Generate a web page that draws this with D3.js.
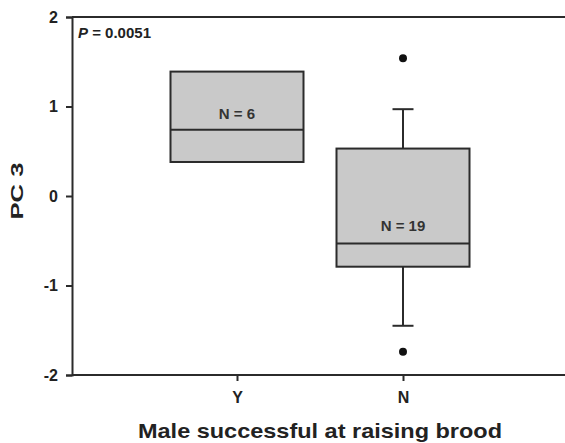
<!DOCTYPE html>
<html><head><meta charset="utf-8">
<script src="https://cdn.jsdelivr.net/npm/d3@7"></script>
<style>body{margin:0;background:#fff;} text{font-family:"Liberation Sans",Arial,sans-serif;}</style>
</head><body>
<svg id="c" width="565" height="443"></svg>
<script>
const categories = ["Y", "N"];
const q1 = [0.38, -0.79];
const medians = [0.74, -0.53];
const q3 = [1.39, 0.53];
const whiskerLow = [null, -1.45];
const whiskerHigh = [null, 0.97];
const outliers = [[], [1.54, -1.74]];
const counts = ["N = 6", "N = 19"];
const countPos = [0.9, -0.35];
const yTicks = [-2, -1, 0, 1, 2];

const svg = d3.select("#c");
const m = {l:72, t:17, r:565, b:375};
const x = d3.scalePoint().domain(categories).range([237, 403]);
const y = d3.scaleLinear().domain([-2, 2]).range([m.b, m.t]);
const bw = 133, cap = 21;
const ink = "#2b2b2b";

svg.append("line").attr("x1", m.l).attr("x2", m.r).attr("y1", m.t).attr("y2", m.t).attr("stroke", ink).attr("stroke-width", 2);

const gy = svg.append("g").attr("transform", `translate(${m.l},0)`)
  .call(d3.axisLeft(y).tickValues(yTicks).tickFormat(d => String(d)).tickSize(6).tickPadding(8));
const gx = svg.append("g").attr("transform", `translate(0,${m.b})`)
  .call(d3.axisBottom(x).tickSize(6).tickPadding(11));
gx.select(".domain").attr("d", `M${m.l},0H${m.r}`);
[gx, gy].forEach(g => {
  g.selectAll("path,line").attr("stroke", ink).attr("stroke-width", 2);
  g.selectAll("text").attr("fill", "#222").style("font-size", "16px").style("font-weight", "bold").style("font-family", "'Liberation Sans',Arial,sans-serif");
});

categories.forEach((c, i) => {
  const cx = x(c);
  const g = svg.append("g");
  if (whiskerHigh[i] !== null) {
    g.append("line").attr("x1", cx).attr("x2", cx).attr("y1", y(q3[i])).attr("y2", y(whiskerHigh[i])).attr("stroke", ink).attr("stroke-width", 2);
    g.append("line").attr("x1", cx - cap/2).attr("x2", cx + cap/2).attr("y1", y(whiskerHigh[i])).attr("y2", y(whiskerHigh[i])).attr("stroke", ink).attr("stroke-width", 2);
  }
  if (whiskerLow[i] !== null) {
    g.append("line").attr("x1", cx).attr("x2", cx).attr("y1", y(q1[i])).attr("y2", y(whiskerLow[i])).attr("stroke", ink).attr("stroke-width", 2);
    g.append("line").attr("x1", cx - cap/2).attr("x2", cx + cap/2).attr("y1", y(whiskerLow[i])).attr("y2", y(whiskerLow[i])).attr("stroke", ink).attr("stroke-width", 2);
  }
  g.append("rect").attr("x", cx - bw/2).attr("y", y(q3[i])).attr("width", bw).attr("height", y(q1[i]) - y(q3[i]))
    .attr("fill", "#c9c9c9").attr("stroke", ink).attr("stroke-width", 2);
  g.append("line").attr("x1", cx - bw/2).attr("x2", cx + bw/2).attr("y1", y(medians[i])).attr("y2", y(medians[i])).attr("stroke", ink).attr("stroke-width", 2);
  outliers[i].forEach(o => g.append("circle").attr("cx", cx).attr("cy", y(o)).attr("r", 4).attr("fill", "#111"));
  g.append("text").attr("x", cx).attr("y", y(countPos[i])).attr("text-anchor", "middle").attr("dominant-baseline", "middle")
    .style("font-size", "15px").style("font-weight", "bold").attr("fill", "#333").text(counts[i]);
});

const pt = svg.append("text").attr("x", 78).attr("y", 38).style("font-size", "15px").style("font-weight", "bold").attr("fill", "#222");
pt.append("tspan").style("font-style", "italic").text("P");
pt.append("tspan").text(" = 0.0051");

svg.append("text").attr("transform", `translate(23,191) rotate(-90)`).attr("text-anchor", "middle")
  .attr("textLength", 57).attr("lengthAdjust", "spacingAndGlyphs")
  .style("font-size", "17px").style("font-weight", "bold").attr("fill", "#222").text("PC 3");
svg.append("text").attr("x", 320).attr("y", 438).attr("text-anchor", "middle")
  .attr("textLength", 364).attr("lengthAdjust", "spacingAndGlyphs")
  .style("font-size", "21px").style("font-weight", "bold").attr("fill", "#222").text("Male successful at raising brood");
</script>
</body></html>
